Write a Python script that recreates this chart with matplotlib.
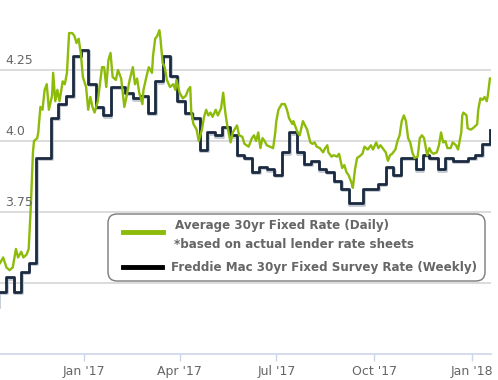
import matplotlib
matplotlib.use("Agg")
import numpy as np
import pandas as pd
import matplotlib.pyplot as plt
import matplotlib.dates as mdates
import matplotlib.patheffects as pe
from matplotlib.patches import FancyBboxPatch
from matplotlib.lines import Line2D

# axis window
start = pd.Timestamp("2016-10-14")
end = pd.Timestamp("2018-01-19")

# daily average rate (days counted from start)
daily_day = [0, 3, 6, 9, 12, 15, 17, 20, 22, 25, 27, 29, 31, 32, 35, 36, 38, 40,
             42, 44, 46, 49, 50, 52, 54, 56, 59, 61, 63, 65, 68, 70, 72, 74, 76,
             78, 81, 83, 85, 87, 89, 92, 96, 98, 100, 102, 104, 106, 109, 111,
             114, 117, 119, 122, 125, 127, 129, 131, 134, 135, 138, 140, 143,
             144, 146, 148, 150, 151, 153, 155, 157, 160, 163, 165, 166, 169,
             172, 175, 177, 179, 180, 182, 185, 187, 190, 192, 194, 196, 198,
             200, 203, 205, 208, 210, 212, 214, 217, 219, 223, 225, 228, 230,
             234, 237, 239, 241, 243, 245, 247, 249, 251, 254, 257, 259, 260,
             262, 265, 268, 270, 272, 275, 276, 278, 280, 282, 285, 287, 289,
             292, 294, 296, 298, 301, 304, 306, 308, 309, 312, 314, 317, 319,
             322, 324, 326, 328, 331, 332, 334, 336, 338, 341, 343, 346, 349,
             351, 354, 356, 358, 360, 363, 365, 367, 369, 372, 374, 376, 378,
             380, 382, 384, 386, 388, 390, 393, 395, 397, 399, 402, 404, 406,
             408, 411, 413, 415, 417, 419, 421, 424, 426, 429, 431, 434, 435,
             436, 439, 440, 443, 445, 448, 449, 450, 452, 454, 456, 458, 459,
             461]
daily_rate = [3.57, 3.59, 3.555, 3.545, 3.555, 3.62, 3.59, 3.61, 3.59, 3.60,
              3.62, 3.77, 3.96, 4.00, 4.01, 4.03, 4.12, 4.11, 4.18, 4.20, 4.11,
              4.16, 4.24, 4.14, 4.18, 4.14, 4.21, 4.20, 4.24, 4.38, 4.38, 4.37,
              4.345, 4.36, 4.31, 4.225, 4.19, 4.11, 4.155, 4.12, 4.10, 4.14,
              4.26, 4.26, 4.19, 4.285, 4.31, 4.225, 4.215, 4.25, 4.22, 4.12,
              4.155, 4.215, 4.26, 4.20, 4.22, 4.17, 4.13, 4.18, 4.23, 4.26,
              4.24, 4.30, 4.36, 4.37, 4.39, 4.36, 4.275, 4.26, 4.215, 4.19,
              4.20, 4.18, 4.215, 4.17, 4.15, 4.16, 4.18, 4.19, 4.10, 4.06,
              4.04, 4.00, 4.04, 4.085, 4.11, 4.09, 4.10, 4.085, 4.11, 4.09,
              4.115, 4.17, 4.10, 4.05, 3.995, 4.03, 4.055, 4.02, 4.015, 3.99,
              3.98, 4.01, 4.02, 4.00, 4.03, 3.975, 4.01, 4.00, 3.985, 3.98,
              3.975, 4.03, 4.07, 4.11, 4.13, 4.13, 4.11, 4.08, 4.06, 4.07,
              4.05, 4.03, 4.02, 4.07, 4.055, 4.04, 3.995, 3.99, 3.995, 3.98,
              3.975, 3.96, 3.975, 3.985, 3.96, 3.945, 3.95, 3.945, 3.955,
              3.905, 3.915, 3.89, 3.88, 3.85, 3.835, 3.90, 3.94, 3.945, 3.955,
              3.98, 3.97, 3.985, 3.97, 3.995, 3.975, 3.985, 3.975, 3.96, 3.93,
              3.95, 3.955, 3.97, 4.00, 4.02, 4.07, 4.09, 4.07, 4.01, 3.995,
              3.96, 3.94, 3.945, 4.01, 4.02, 4.01, 3.95, 3.975, 3.96, 3.955,
              3.96, 3.985, 4.03, 3.995, 4.00, 3.975, 3.975, 3.995, 3.985, 3.97,
              4.03, 4.09, 4.10, 4.09, 4.045, 4.04, 4.045, 4.055, 4.06, 4.11,
              4.15, 4.145, 4.155, 4.14, 4.16, 4.22]

# Freddie Mac weekly survey rate
weekly_date = ["2016-10-06", "2016-10-13", "2016-10-20", "2016-10-27",
               "2016-11-03", "2016-11-10", "2016-11-17", "2016-11-23",
               "2016-12-01", "2016-12-08", "2016-12-15", "2016-12-22",
               "2016-12-29", "2017-01-05", "2017-01-12", "2017-01-19",
               "2017-01-26", "2017-02-02", "2017-02-09", "2017-02-16",
               "2017-02-23", "2017-03-02", "2017-03-09", "2017-03-16",
               "2017-03-23", "2017-03-30", "2017-04-06", "2017-04-13",
               "2017-04-20", "2017-04-27", "2017-05-04", "2017-05-11",
               "2017-05-18", "2017-05-25", "2017-06-01", "2017-06-08",
               "2017-06-15", "2017-06-22", "2017-06-29", "2017-07-06",
               "2017-07-13", "2017-07-20", "2017-07-27", "2017-08-03",
               "2017-08-10", "2017-08-17", "2017-08-24", "2017-08-31",
               "2017-09-07", "2017-09-14", "2017-09-21", "2017-09-28",
               "2017-10-05", "2017-10-12", "2017-10-19", "2017-10-26",
               "2017-11-02", "2017-11-09", "2017-11-16", "2017-11-22",
               "2017-11-30", "2017-12-07", "2017-12-14", "2017-12-21",
               "2017-12-28", "2018-01-04", "2018-01-11", "2018-01-18"]
weekly_rate = [3.42, 3.47, 3.52, 3.47, 3.54, 3.57, 3.94, 3.94, 4.08, 4.13,
               4.16, 4.30, 4.32, 4.20, 4.12, 4.09, 4.19, 4.19, 4.17, 4.15,
               4.16, 4.10, 4.21, 4.30, 4.23, 4.14, 4.10, 4.08, 3.97, 4.03,
               4.02, 4.05, 4.02, 3.95, 3.94, 3.89, 3.91, 3.90, 3.88, 3.96,
               4.03, 3.96, 3.92, 3.93, 3.90, 3.89, 3.86, 3.83, 3.78, 3.78,
               3.83, 3.83, 3.85, 3.91, 3.88, 3.94, 3.94, 3.90, 3.95, 3.94,
               3.90, 3.94, 3.93, 3.93, 3.94, 3.95, 3.99, 4.04]

y_ticks = [3.75, 4.0, 4.25]
y_tick_labels = ["3.75", "4.0", "4.25"]
x_ticks = ["2017-01-01", "2017-04-01", "2017-07-01", "2017-10-01", "2018-01-01"]
x_tick_labels = ["Jan '17", "Apr '17", "Jul '17", "Oct '17", "Jan '18"]

green = "#8dbb0a"
navy = "#1b2a40"
grey_txt = "#666666"

daily_x = start + pd.to_timedelta(daily_day, unit="D")
weekly_x = pd.to_datetime(weekly_date)

fig = plt.figure(figsize=(4.98, 3.80), dpi=100)
ax = fig.add_axes([0, 26 / 380, 491 / 498, 355 / 380])

for v in [3.5, 3.75, 4.0, 4.25]:
    ax.axhline(v, color="#d6d6d6", lw=1.2, zorder=0)

# shadow copy first, then the dark weekly line on top
ax.step(weekly_x, weekly_rate, where="post", color="#c3cad2", lw=2.0, zorder=1,
        transform=ax.transData + matplotlib.transforms.Affine2D().translate(0.5, -1.2))
ax.step(weekly_x, weekly_rate, where="post", color=navy, lw=2.0, zorder=2)
ax.plot(daily_x, daily_rate, color=green, lw=1.7, zorder=3)

ax.set_xlim(start, end)
ax.set_ylim(3.25, 4.5)

for s in ["top", "left", "right"]:
    ax.spines[s].set_visible(False)
ax.spines["bottom"].set_color("#ccd6eb")
ax.spines["bottom"].set_linewidth(1.2)

ax.set_yticks([])
ax.set_xticks(pd.to_datetime(x_ticks))
ax.set_xticklabels(x_tick_labels, fontsize=9, color=grey_txt)
ax.tick_params(axis="x", length=5, width=1, color="#ccd6eb", pad=3)

# y labels sit inside the plot, above the gridlines
for v, lab in zip(y_ticks, y_tick_labels):
    ax.annotate(lab, xy=(0, v), xycoords=("axes fraction", "data"),
                xytext=(4, 2), textcoords="offset points", fontsize=9,
                color=grey_txt, va="bottom", ha="left")

# legend box
box = FancyBboxPatch((108, 99), 377, 67, boxstyle="round,pad=0,rounding_size=9",
                     transform=None, facecolor="white", edgecolor="#7a7a7a",
                     lw=1.0, zorder=5)
fig.patches.append(box)
fig.add_artist(Line2D([123, 163], [148, 148], color=green, lw=3.5,
                      transform=None, zorder=6))
fig.add_artist(Line2D([123, 162], [113, 113], color="black", lw=3.5,
                      transform=None, zorder=6))
fig.text(175 / 498, 1 - 226 / 380, "Average 30yr Fixed Rate (Daily)",
         fontsize=8.6, fontweight="bold", color=grey_txt, va="center", zorder=7)
fig.text(174 / 498, 1 - 244 / 380, "*based on actual lender rate sheets",
         fontsize=8.6, fontweight="bold", color=grey_txt, va="center", zorder=7)
fig.text(171 / 498, 1 - 267 / 380, "Freddie Mac 30yr Fixed Survey Rate (Weekly)",
         fontsize=8.6, fontweight="bold", color=grey_txt, va="center", zorder=7)

fig.savefig("out.png", dpi=100)
